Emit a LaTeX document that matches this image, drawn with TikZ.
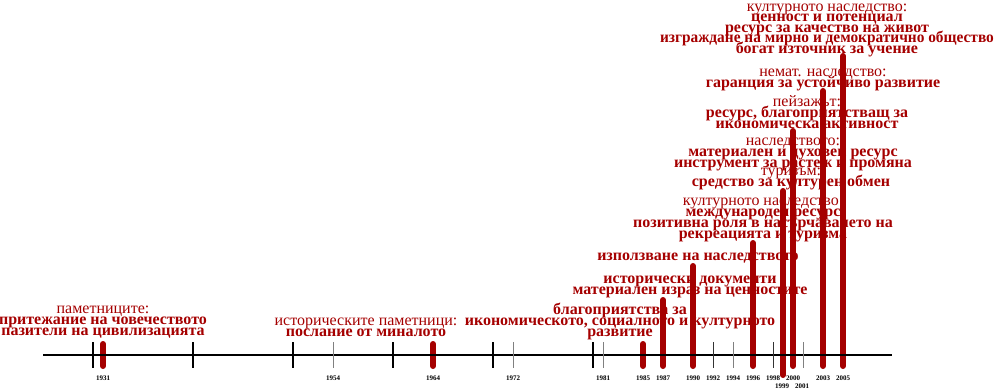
\documentclass[tikz,border=0pt]{standalone}
\usepackage{graphicx}
\usepackage{fontspec}
\setmainfont{Liberation Serif}
\definecolor{heritred}{RGB}{165,0,0}
\newcommand{\hdline}[1]{{\mdseries #1}}
\newcommand{\tightlines}{\lineskiplimit=-50pt\relax}

\begin{document}
\begin{tikzpicture}[x=1pt,y=-1pt,
  bar/.style={heritred, line width=6pt, line cap=round},
  major/.style={line width=2pt},
  minor/.style={gray, line width=1pt},
  thinmark/.style={black!80, line width=1pt},
  yearlbl/.style={font=\bfseries\fontsize{7}{7}\selectfont, inner sep=0pt},
  note/.style={heritred, align=center, inner sep=0pt,
    font=\bfseries\fontsize{16}{11}\selectfont\tightlines}]
\useasboundingbox (0,0) rectangle (1000,391);

% bars
\foreach \yr/\hi/\lo in {1931/344/366, 1964/344/366, 1985/344/366, 1987/300/366,
    1990/266/366, 1996/243/366, 1999/191/375, 2000/131/366, 2003/91/366, 2005/56/366}
  \draw[bar] ({103+10*(\yr-1931)},\hi) -- ({103+10*(\yr-1931)},\lo);

% time line
\coordinate (start) at (43,355);
\coordinate (end) at (892,355);
\draw[major] (start) -- (end);

\foreach \yr in {1930,1940,...,1980}
  \draw[major] ({103+10*(\yr-1931)},342) -- ++(0,26);
\foreach \yr in {1954,1972,1981,1994,2001}
  \draw[minor] ({103+10*(\yr-1931)},342) -- ++(0,26);
\foreach \yr in {1992,1998}
  \draw[thinmark] ({103+10*(\yr-1931)},342) -- ++(0,26);

\foreach \yr in {1931,1954,1964,1972,1981,1985,1987,1990,1992,1994,1996,1998,2000,2003,2005}
  \node[yearlbl] (y\yr) at ({103+10*(\yr-1931)},378) {\yr};
\node[yearlbl] (y1999) at (782,386) {1999};
\node[yearlbl] (y2001) at (802,386) {2001};

% notes
\node[note] (monuments) at (103,322) {\hdline{паметниците:}\\притежание на човечеството\\пазители на цивилизацията};
\node[note] (historic) at (366,327) {\hdline{историческите паметници:}\\послание от миналото};
\node[note] (favour) at (620,321) {благоприятства за\\икономическото, социалното и културното\\развитие};
\node[note] (documents) at (690,287) {исторически документи\\материален израз на ценностите};
\node[note] (usage) at (698,258) {използване на наследството};
\node[note] (resource) at (763,219.5) {\hdline{културното наследство:}\\международен ресурс\\позитивна роля в насърчаването на\\рекреацията и туризма};
\node[note] (tourism) at (791,179) {\hdline{туризъм:}\\средство за културен обмен};
\node[note] (heritage) at (793,154) {\hdline{наследството:}\\материален и духовен ресурс\\инструмент за растеж и промяна};
\node[note] (landscape) at (807,112.5) {\hdline{пейзажът:}\\ресурс, благоприятстващ за\\икономическа активност};
\node[note] (intangible) at (823,79.5) {\hdline{немат. наследство:}\\гаранция за устойчиво развитие};
\node[note, font=\bfseries\fontsize{16}{10.5}\selectfont\tightlines] (value) at (827,30)
  {\hdline{културното наследство:}\\ценност и потенциал\\ресурс за качество на живот\\\scalebox{0.96}[1]{изграждане на мирно и демократично общество}\\богат източник за учение};

\end{tikzpicture}
\end{document}
